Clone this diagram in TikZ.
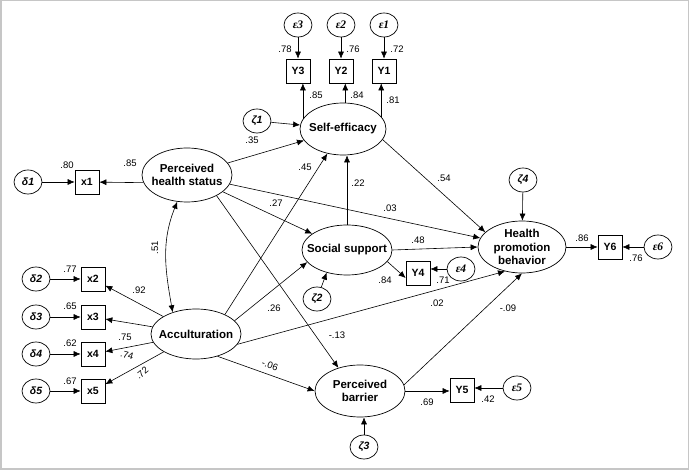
\documentclass[tikz,border=0pt]{standalone}
\usepackage{fontspec}
\setmainfont{Liberation Sans}
\newfontfamily\serifgr{Liberation Serif}
\usetikzlibrary{shapes.geometric,arrows.meta}
\begin{document}
\begin{tikzpicture}[x=1pt,y=-1pt,
  latent/.style={ellipse,draw,line width=0.7pt,inner sep=0pt},
  ltext/.style={inner sep=0pt,align=center,font=\fontsize{11.5}{13.5}\selectfont\bfseries},
  obs/.style={rectangle,draw,line width=0.7pt,minimum width=24pt,minimum height=24pt,inner sep=0pt,font=\fontsize{10.5}{12}\selectfont\bfseries},
  err/.style={ellipse,draw,line width=0.7pt,minimum width=28pt,minimum height=24pt,inner sep=0pt,font=\fontsize{10.5}{12}\selectfont\bfseries\itshape},
  eerr/.style={err,font=\fontsize{11.5}{12}\selectfont\serifgr\bfseries\itshape},
  lbl/.style={inner sep=0pt,font=\fontsize{9.5}{11}\selectfont},
  arr/.style={-{Latex[length=7pt,width=6pt]},line width=0.6pt},
  darr/.style={{Latex[length=7pt,width=6pt]}-{Latex[length=7pt,width=6pt]},line width=0.6pt},
]
\useasboundingbox (0,0) rectangle (689,470);
\draw[gray!45,line width=1.5pt] (0.75,0.75) rectangle (688.25,469.25);

% error terms top
\node[eerr] (e3) at (298,25) {ε3};
\node[eerr] (e2) at (341,25) {ε2};
\node[eerr] (e1) at (384,25) {ε1};
\node[obs] (y3) at (298,71) {Y3};
\node[obs] (y2) at (341,71) {Y2};
\node[obs] (y1) at (384,71) {Y1};

% latent variables
\node[latent,minimum width=86pt,minimum height=52pt] (se) at (343,129) {};
\node[ltext] (set) at (se) {Self-efficacy};
\node[latent,minimum width=90pt,minimum height=54pt] (phs) at (187,175) {};
\node[ltext] (phst) at (phs) {Perceived\\health status};
\node[latent,minimum width=90pt,minimum height=50pt] (acc) at (196,334) {};
\node[ltext] (acct) at (acc) {Acculturation};
\node[latent,minimum width=90pt,minimum height=50pt] (ss) at (347,250) {};
\node[ltext] (sst) at (ss) {Social support};
\node[latent,minimum width=88pt,minimum height=52pt] (hpb) at (522,247) {};
\node[ltext] (hpbt) at (hpb) {Health\\promotion\\behavior};
\node[latent,minimum width=90pt,minimum height=52pt] (pb) at (360,391) {};
\node[ltext] (pbt) at (pb) {Perceived\\barrier};

% disturbances
\node[err] (z1) at (257,121) {ζ1};
\node[err] (z2) at (317,299) {ζ2};
\node[err] (z3) at (364,447) {ζ3};
\node[err] (z4) at (523,180) {ζ4};

% left indicators
\node[err] (d1) at (28,182) {δ1};
\node[obs] (x1) at (87,182) {x1};
\node[err] (d2) at (36,279) {δ2};
\node[obs] (x2) at (93,279) {x2};
\node[err] (d3) at (36,317) {δ3};
\node[obs] (x3) at (93,317) {x3};
\node[err] (d4) at (36,354) {δ4};
\node[obs] (x4) at (93,354) {x4};
\node[err] (d5) at (36,391) {δ5};
\node[obs] (x5) at (93,391) {x5};

% right indicators
\node[obs] (y4) at (418,273) {Y4};
\node[eerr] (e4) at (461,269) {ε4};
\node[obs] (y6) at (610,247) {Y6};
\node[eerr] (e6) at (658,247) {ε6};
\node[obs] (y5) at (462,390) {Y5};
\node[eerr] (e5) at (517,388) {ε5};

% measurement arrows
\draw[arr] (e3) -- (y3);
\draw[arr] (e2) -- (y2);
\draw[arr] (e1) -- (y1);
\draw[arr] (se.166) -- (se.166 |- y3.south);
\draw[arr] (se.85) -- (se.85 |- y2.south);
\draw[arr] (se.18) -- (se.18 |- y1.south);
\draw[arr] (d1) -- (x1);
\draw[arr] (phs.190) -- (x1);
\draw[arr] (d2) -- (x2);
\draw[arr] (d3) -- (x3);
\draw[arr] (d4) -- (x4);
\draw[arr] (d5) -- (x5);
\draw[arr] (acc) -- (x2);
\draw[arr] (acc) -- (x3);
\draw[arr] (acc) -- (x4);
\draw[arr] (acc) -- (x5);
\draw[arr] (ss.-16) -- ([yshift=-5pt]y4.west);
\draw[arr] (e4.west) -- (e4.west -| y4.east);
\draw[arr] (hpb.east) -- (hpb.east -| y6.west);
\draw[arr] (e6) -- (y6);
\draw[arr] (pb.east) -- (pb.east -| y5.west);
\draw[arr] (e5.west) -- (e5.west -| y5.east);

% disturbances
\draw[arr] (z1) -- (se);
\draw[arr] (z2) -- (ss.228);
\draw[arr] (z3) -- (z3 |- pb.south);
\draw[arr] (z4) -- (hpb);

% structural paths
\draw[darr] (phs.-110) to[out=-112,in=100] (acc.137);
\draw[arr] (phs) -- (se);
\draw[arr] (phs) -- (ss);
\draw[arr] (phs) -- (hpb);
\draw[arr] (phs.-35) -- (pb.133);
\draw[arr] (acc.34) -- (se);
\draw[arr] (acc.19) -- (ss.197);
\draw[arr] (acc.-14) -- (hpb.235);
\draw[arr] (acc.-46) -- (pb.west);
\draw[arr] (ss.north) -- (ss.north |- se.south);
\draw[arr] (ss.east) -- (hpb.west);
\draw[arr] (se.-15) -- (hpb.158);
\draw[arr] (pb.8) -- (hpb.south);

% labels
\node[lbl] (l78) at (285,49) {.78};
\node[lbl] (l76) at (353,49) {.76};
\node[lbl] (l72) at (397,49) {.72};
\node[lbl] (l85a) at (316,95) {.85};
\node[lbl] (l84a) at (357,95) {.84};
\node[lbl] (l81) at (393,100) {.81};
\node[lbl] (l35) at (252,140) {.35};
\node[lbl] (l80) at (67,165) {.80};
\node[lbl] (l85b) at (130,163) {.85};
\node[lbl] (l45) at (305,167) {.45};
\node[lbl] (l27) at (276,203) {.27};
\node[lbl] (l22) at (358,183) {.22};
\node[lbl] (l54) at (444,178) {.54};
\node[lbl] (l03) at (390,208) {.03};
\node[lbl] (l48) at (418,240) {.48};
\node[lbl] (l84b) at (385,280) {.84};
\node[lbl] (l71) at (443,280) {.71};
\node[lbl] (l86) at (582,238) {.86};
\node[lbl] (l76b) at (636,258) {.76};
\node[lbl,rotate=90] (l51) at (155,248) {.51};
\node[lbl] (l77) at (70,269) {.77};
\node[lbl] (l65) at (70,306) {.65};
\node[lbl] (l62) at (70,343) {.62};
\node[lbl] (l67) at (70,381) {.67};
\node[lbl] (l92) at (139,290) {.92};
\node[lbl] (l75) at (125,337) {.75};
\node[lbl,rotate=-15] (l74) at (127,355) {.74};
\node[lbl,rotate=40] (l72b) at (142,373) {.72};
\node[lbl] (l26) at (274,308) {.26};
\node[lbl] (l13) at (337,335) {-.13};
\node[lbl,rotate=-20] (l06) at (270,365) {-.06};
\node[lbl] (l02) at (437,303) {.02};
\node[lbl] (l09) at (508,308) {-.09};
\node[lbl] (l69) at (427,402) {.69};
\node[lbl] (l42) at (488,399) {.42};
\end{tikzpicture}
\end{document}
